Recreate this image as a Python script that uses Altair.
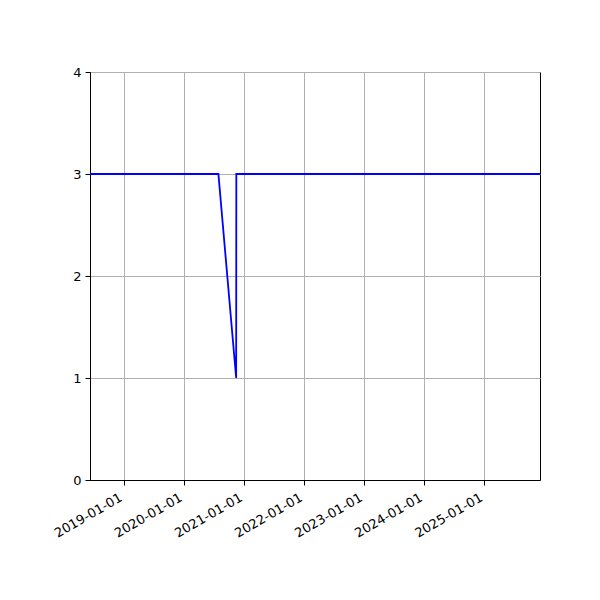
import altair as alt
import pandas as pd

dates = ["2018-06-10", "2020-07-30", "2020-11-15", "2020-11-16", "2025-12-07"]
values = [3, 3, 1, 3, 3]
tick_years = [2019, 2020, 2021, 2022, 2023, 2024, 2025]
y_ticks = [0, 1, 2, 3, 4]

df = pd.DataFrame({"date": dates, "value": values})

chart = alt.Chart(df).mark_line(color="#0000ff", strokeWidth=1.8, clip=True).encode(
    x=alt.X(
        "date:T",
        scale=alt.Scale(type="utc", domain=[dates[0], dates[-1]], nice=False),
        axis=alt.Axis(
            values=[alt.DateTime(year=y, month=1, date=1, utc=True) for y in tick_years],
            format="%Y-%m-%d",
            labelAngle=-30,
            labelAlign="right",
            labelBaseline="top",
            labelOverlap=False,
            labelOffset=-6,
            labelPadding=6,
            title=None,
        ),
    ),
    y=alt.Y(
        "value:Q",
        scale=alt.Scale(domain=[0, 4], nice=False),
        axis=alt.Axis(values=y_ticks, format="d", title=None, labelPadding=4),
    ),
).properties(
    width=450,
    height=408,
    autosize=alt.AutoSizeParams(type="none"),
    padding={"left": 82, "top": 64, "right": 52, "bottom": 112},
).configure_view(
    stroke="black", strokeWidth=1
).configure_axis(
    grid=True,
    gridColor="#b0b0b0",
    gridWidth=1,
    domainColor="black",
    domainWidth=1,
    tickColor="black",
    tickSize=5,
    tickWidth=1,
    labelFont="DejaVu Sans",
    labelFontSize=13,
    labelColor="black",
)

chart.save("out.html", embed_options={"renderer": "svg", "actions": False})
